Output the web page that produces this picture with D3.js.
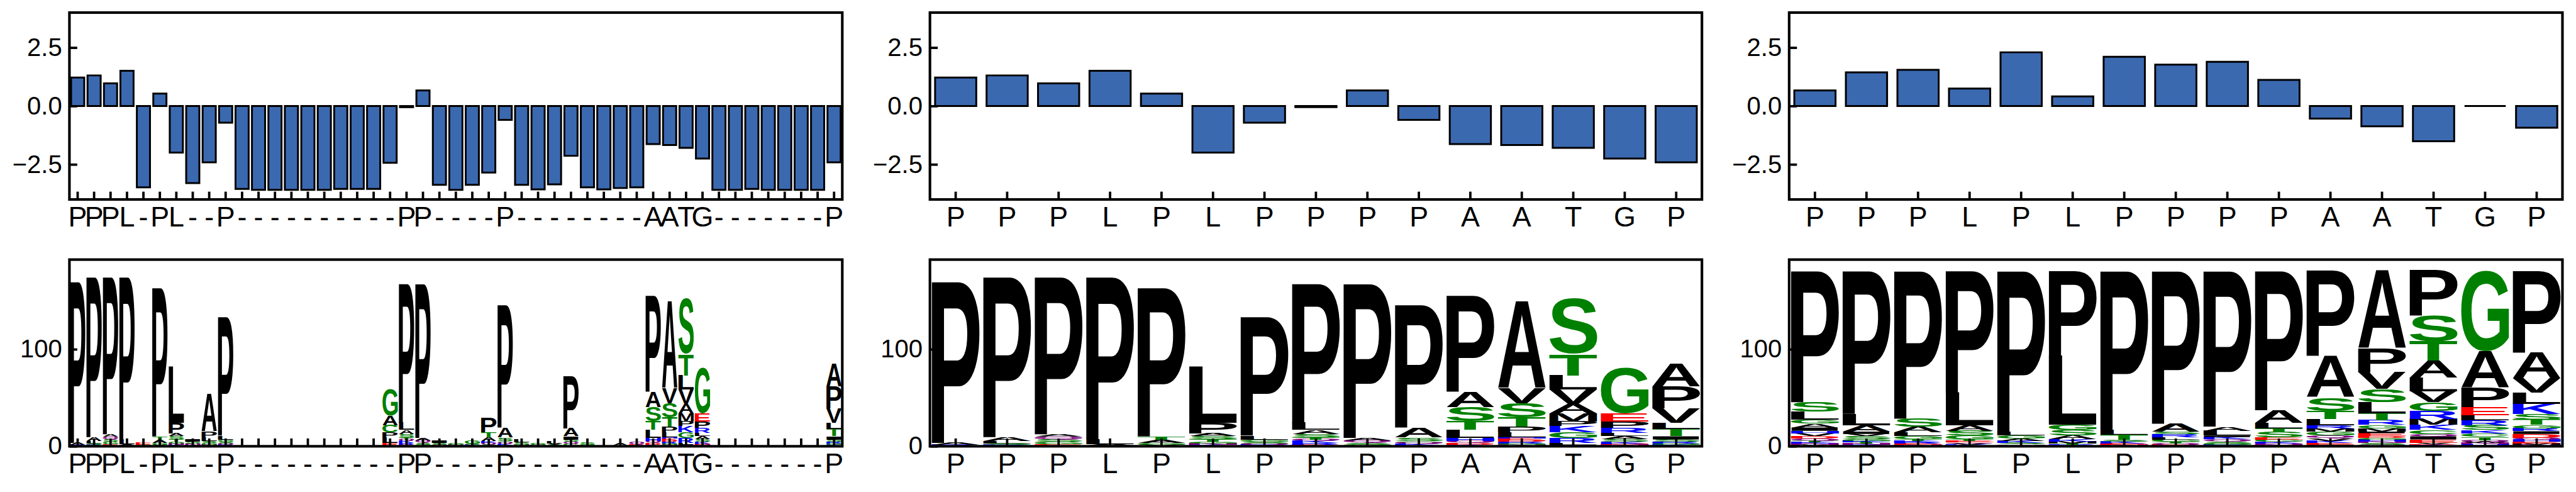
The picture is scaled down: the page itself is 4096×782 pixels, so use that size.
<!DOCTYPE html>
<html><head><meta charset="utf-8">
<script src="https://cdn.jsdelivr.net/npm/d3@7"></script>
<style>html,body{margin:0;padding:0;background:#fff;overflow:hidden}</style>
</head><body>
<svg id="c" width="4096" height="782"></svg>
<script>
// ---------------- DATA ----------------
const labels1 = "PPPL-PL--P----------PP----P--------AATG-------P".split("");
const labels2 = "PPPLPLPPPPAATGP".split("");
const labels3 = "PPPLPLPPPPAATGP".split("");

const bars1 = [1.22, 1.31, 0.97, 1.51, -3.48, 0.53, -1.99, -3.30, -2.41, -0.71,
  -3.55, -3.59, -3.59, -3.59, -3.59, -3.59, -3.55, -3.55, -3.55, -2.43,
  -0.05, 0.67, -3.37, -3.59, -3.37, -2.85, -0.59, -3.37, -3.57, -3.35,
  -2.13, -3.48, -3.57, -3.51, -3.48, -1.63, -1.67, -1.79, -2.25, -3.59,
  -3.59, -3.55, -3.59, -3.59, -3.59, -3.59, -2.41];
const bars2 = [1.22, 1.31, 0.97, 1.51, 0.53, -1.99, -0.71, -0.05, 0.67, -0.59, -1.63, -1.67, -1.79, -2.25, -2.41];
const bars3 = [0.67, 1.44, 1.55, 0.75, 2.30, 0.41, 2.11, 1.77, 1.89, 1.12, -0.54, -0.87, -1.51, 0.0, -0.93];

const barTickValues = [-2.5, 0, 2.5];
const logoTickValues = [0, 100];

// logo columns, letters listed bottom -> top with heights
const logo2 = [
  [["R",1.2],["A",2.3],["P",167.2]],
  [["R",1.4],["S",1.5],["L",2.5],["A",4.1],["P",166.1]],
  [["E",1.8],["G",2.8],["S",2.4],["Q",3.0],["A",2.4],["P",163.2]],
  [["S",1.0],["A",1.4],["L",4.6],["P",168.6]],
  [["V",1.6],["G",1.8],["A",3.6],["T",3.3],["P",154.2]],
  [["K",1.5],["N",1.5],["G",2.0],["T",2.5],["S",3.0],["A",3.0],["P",10.7],["L",58.4]],
  [["R",1.2],["Q",1.5],["S",2.0],["G",2.0],["L",4.4],["P",123.2]],
  [["E",1.5],["R",1.7],["K",2.2],["Q",1.6],["T",2.5],["S",3.2],["A",4.1],["L",7.4],["P",144.4]],
  [["G",1.5],["S",2.0],["Q",2.7],["A",2.5],["P",159.9]],
  [["E",1.0],["K",1.6],["Q",1.8],["G",1.0],["S",3.6],["A",10.3],["P",127.3]],
  [["K",1.8],["D",1.6],["Q",2.0],["H",3.3],["L",8.4],["T",8.7],["S",14.7],["A",15.8],["P",99.3]],
  [["N",1.5],["G",1.5],["R",1.5],["D",1.5],["E",2.0],["H",1.5],["L",4.9],["P",5.6],["T",9.9],["S",14.7],["V",15.5],["A",89.4]],
  [["I",1.5],["L",1.9],["R",4.9],["G",6.1],["K",6.5],["P",4.9],["M",8.2],["A",9.7],["V",14.7],["L",14.7],["T",22.1],["S",57.1]],
  [["N",1.2],["D",1.2],["K",2.2],["S",2.4],["A",3.6],["L",2.9],["R",5.3],["P",7.0],["E",8.2],["G",47.3]],
  [["K",1.5],["G",1.6],["R",1.5],["S",2.4],["I",3.3],["T",7.3],["L",6.6],["V",14.7],["P",22.8],["A",23.7]]
];
const logo3 = [
  [["M",1.5],["N",1.4],["K",1.5],["T",1.5],["Q",1.9],["D",2.5],["V",3.2],["H",2.5],["I",3.3],["A",4.0],["G",4.1],["L",8.2],["S",9.8],["P",136.3]],
  [["R",1.3],["N",1.3],["T",1.2],["K",1.6],["G",1.6],["S",3.3],["V",2.4],["I",2.5],["A",6.5],["L",11.8],["P",148.2]],
  [["N",1.3],["E",1.2],["R",1.3],["K",1.6],["T",1.6],["G",3.6],["L",3.8],["A",5.7],["S",8.3],["P",153.3]],
  [["K",1.2],["V",1.2],["Q",1.4],["E",1.6],["T",1.6],["G",4.1],["S",4.9],["A",5.4],["L",33.6],["P",126.7]],
  [["E",1.1],["N",1.1],["S",1.2],["K",2.0],["A",2.4],["G",3.3],["L",4.1],["P",166.5]],
  [["R",1.5],["T",1.5],["M",2.0],["K",2.0],["A",4.1],["S",5.7],["G",5.2],["L",71.5],["P",88.2]],
  [["N",1.4],["E",1.5],["K",2.0],["S",2.0],["T",5.0],["L",5.2],["P",164.6]],
  [["E",1.5],["Q",1.5],["T",1.6],["G",2.4],["L",2.5],["R",3.2],["S",2.5],["A",8.1],["P",158.4]],
  [["R",1.5],["G",1.6],["S",1.8],["Q",2.4],["K",2.2],["I",1.6],["L",4.9],["A",4.4],["P",161.3]],
  [["N",1.4],["Q",1.6],["K",1.8],["G",2.2],["E",2.0],["S",6.2],["T",3.2],["L",5.8],["A",13.0],["P",144.5]],
  [["I",1.7],["E",1.7],["K",2.0],["V",2.4],["Q",3.3],["G",4.1],["M",3.2],["R",3.3],["L",6.5],["T",8.2],["S",13.9],["A",42.4],["P",89.0]],
  [["Q",1.6],["S",1.7],["N",1.6],["H",2.0],["G",1.7],["D",1.7],["E",3.2],["I",1.7],["M",3.2],["G",3.6],["R",4.6],["T",7.4],["L",11.4],["S",13.9],["V",17.1],["P",25.3],["A",80.0]],
  [["K",1.2],["D",1.0],["V",1.2],["E",3.6],["I",3.3],["Q",2.4],["C",4.1],["K",5.2],["M",6.2],["R",8.5],["G",8.7],["V",11.4],["L",13.9],["A",17.9],["T",19.6],["S",26.1],["P",47.4]],
  [["H",2.0],["N",1.3],["W",1.3],["Q",1.6],["T",3.6],["C",3.7],["K",3.3],["S",4.9],["R",4.9],["L",5.7],["E",8.2],["P",20.0],["A",37.9],["G",83.3]],
  [["N",1.5],["M",1.5],["E",1.5],["H",2.4],["Q",2.0],["D",3.8],["I",2.8],["R",2.9],["G",3.6],["T",5.4],["S",5.7],["K",10.6],["L",11.9],["V",14.7],["A",26.5],["P",84.9]]
];
// gap ('-') columns of the full alignment logo, in order
const logo1Gaps = [
  [["G",1.6],["E",2.0]],
  [["K",1.0],["N",1.5],["S",2.5],["I",2.5]],
  [["N",1.6],["G",1.8],["S",2.0],["L",4.1],["P",5.7],["A",38.3]],
  [], [], [], [], [], [],
  [["S",0.8]], [["S",0.8]], [["G",0.8]],
  [["E",3.4],["L",6.1],["P",4.9],["C",7.3],["A",9.8],["G",26.9]],
  [["Q",1.5],["S",2.0],["I",2.5]],
  [["N",1.5],["G",2.0]],
  [["K",1.2],["S",1.8],["G",3.5]],
  [["S",1.8],["Q",1.8],["K",1.8],["A",4.1],["T",4.9],["P",14.7]],
  [["N",1.5],["S",2.5],["L",3.0]],
  [["Q",1.5],["G",1.5]],
  [["S",1.5],["V",1.5],["L",2.5]],
  [["G",2.3],["Q",2.3],["S",2.4],["I",3.3],["A",8.1],["P",54.7]],
  [["G",1.2],["S",2.2]],
  [["G",1.0]],
  [["I",1.0],["A",2.0]],
  [["E",1.3],["Q",2.8]],
  [], [], [["I",0.8]], [["L",0.8]], [], [], []
];

// ---------------- DRAWING ----------------
const S = 0.690;
const FONT = "'Liberation Sans', Arial, Helvetica, sans-serif";
const svg = d3.select("#c");
const root = svg.append("g").attr("transform", `scale(${S})`);

const panelsX = [[160, 1941], [2143, 3922], [4123, 5905]];
const barTop = 29, barBot = 459.5, logoTop = 598, logoBot = 1028;
const BAR_FILL = "#3b69b0";

const colorOf = c => "GSTYC".includes(c) ? "#008000" :
                     "QN".includes(c) ? "#800080" :
                     "KRH".includes(c) ? "#0000ff" :
                     "DE".includes(c) ? "#ff0000" : "#000000";

const ctx = document.createElement("canvas").getContext("2d");
ctx.font = `bold 200px ${FONT}`;
const inkCache = {};
function ink(ch) {
  if (!inkCache[ch]) {
    const m = ctx.measureText(ch);
    inkCache[ch] = {l: m.actualBoundingBoxLeft, r: m.actualBoundingBoxRight,
                    a: m.actualBoundingBoxAscent, d: m.actualBoundingBoxDescent};
  }
  return inkCache[ch];
}

function styleAxis(ax, size) {
  ax.attr("font-family", FONT).attr("font-size", size);
  ax.select(".domain").remove();
  ax.selectAll(".tick line").attr("stroke", "#000").attr("stroke-width", 5.5);
  ax.selectAll(".tick text").attr("fill", "#000");
}

function frame(g, px, top, bot) {
  g.append("rect").attr("x", px[0]).attr("y", top)
    .attr("width", px[1] - px[0]).attr("height", bot - top)
    .attr("fill", "none").attr("stroke", "#000").attr("stroke-width", 6);
}

function barPanel(px, labels, values) {
  const g = root.append("g");
  const x = d3.scaleBand().domain(d3.range(labels.length)).range(px).padding(0);
  const y = d3.scaleLinear().domain([-4, 4]).range([barBot, barTop]);
  const bw = x.bandwidth() * 0.8;
  g.selectAll("path.bar").data(values).join("path").attr("class", "bar")
    .attr("d", (v, i) => {
      const x0 = x(i) + x.bandwidth() / 2 - bw / 2;
      const ya = y(Math.max(0, v)), yb = y(Math.min(0, v));
      return `M${x0},${ya}H${x0 + bw}V${yb}H${x0}Z`;
    })
    .attr("fill", BAR_FILL).attr("stroke", "#000").attr("stroke-width", 4.3)
    .attr("stroke-linejoin", "miter");
  const axB = g.append("g").attr("transform", `translate(0,${barBot})`)
    .call(d3.axisBottom(x).tickFormat(i => labels[i]).tickSizeInner(-18).tickSizeOuter(0).tickPadding(16.3));
  styleAxis(axB, 65);
  const axL = g.append("g").attr("transform", `translate(${px[0]},0)`)
    .call(d3.axisLeft(y).tickValues(barTickValues).tickFormat(d3.format(".1f")).tickSizeInner(-18).tickSizeOuter(0).tickPadding(17));
  styleAxis(axL, 58);
  frame(g, px, barTop, barBot);
}

function logoPanel(px, labels, cols) {
  const g = root.append("g");
  const x = d3.scaleBand().domain(d3.range(labels.length)).range(px).padding(0);
  const y = d3.scaleLinear().domain([0, 192.5]).range([logoBot, logoTop]);
  const lw = x.bandwidth() * 0.93;
  const recs = [];
  cols.forEach((col, i) => {
    let base = 0;
    col.forEach(([ch, h]) => {
      recs.push({ch, i, lo: base, hi: base + h});
      base += h;
    });
  });
  g.selectAll("text.glyph").data(recs).join("text").attr("class", "glyph")
    .text(d => d.ch)
    .attr("font-family", FONT).attr("font-weight", "bold").attr("font-size", 200)
    .attr("fill", d => colorOf(d.ch))
    .attr("transform", d => {
      const m = ink(d.ch);
      const bx = x(d.i) + x.bandwidth() / 2 - lw / 2;
      const by = y(d.hi), bh = y(d.lo) - y(d.hi);
      const sx = lw / (m.l + m.r), sy = bh / (m.a + m.d);
      return `translate(${bx},${by}) scale(${sx},${sy}) translate(${m.l},${m.a})`;
    });
  const axB = g.append("g").attr("transform", `translate(0,${logoBot})`)
    .call(d3.axisBottom(x).tickFormat(i => labels[i]).tickSizeInner(-18).tickSizeOuter(0).tickPadding(16.3));
  styleAxis(axB, 65);
  const axL = g.append("g").attr("transform", `translate(${px[0]},0)`)
    .call(d3.axisLeft(y).tickValues(logoTickValues).tickFormat(d3.format("d")).tickSizeInner(-18).tickSizeOuter(0).tickPadding(17));
  styleAxis(axL, 58);
  frame(g, px, logoTop, logoBot);
}

// assemble full-alignment logo: aligned columns come from the query columns
let gi = 0, ai = 0;
const logo1 = labels1.map(ch => ch === "-" ? logo1Gaps[gi++] : logo2[ai++]);

barPanel(panelsX[0], labels1, bars1);
barPanel(panelsX[1], labels2, bars2);
barPanel(panelsX[2], labels3, bars3);
logoPanel(panelsX[0], labels1, logo1);
logoPanel(panelsX[1], labels2, logo2);
logoPanel(panelsX[2], labels3, logo3);
</script>
</body></html>
